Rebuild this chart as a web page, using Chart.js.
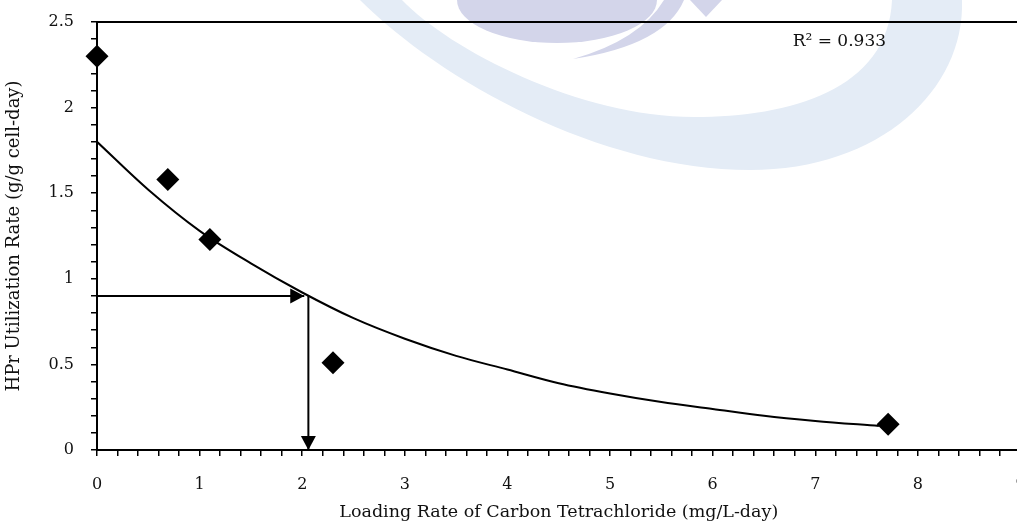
<!DOCTYPE html>
<html>
<head>
<meta charset="utf-8">
<script src="https://cdn.jsdelivr.net/npm/chart.js@4/dist/chart.umd.min.js"></script>
<style>
  html, body { margin: 0; padding: 0; background: #fff; overflow: hidden; }
  #chart { display: block; }
</style>
</head>
<body>
<canvas id="chart" width="1032" height="528"></canvas>
<script>
// measured points
const loadingRate = [0, 0.69, 1.1, 2.3, 7.71];
const utilRate = [2.3, 1.58, 1.23, 0.51, 0.15];

// trend line
const trendX = [0, 0.5, 1, 1.5, 2, 2.5, 3, 3.5, 4, 4.5, 5, 5.5, 6, 6.5, 7, 7.62];
const trendY = [1.8, 1.52, 1.28, 1.09, 0.92, 0.77, 0.65, 0.55, 0.47, 0.39, 0.33, 0.28, 0.24, 0.2, 0.17, 0.14];

// guide arrows
const arrowAcrossX = [0, 2.02];
const arrowAcrossY = [0.9, 0.9];
const arrowDownX = [2.06, 2.06];
const arrowDownY = [0.9, 0];

const xMajorTicks = [0, 1, 2, 3, 4, 5, 6, 7, 8, 9];
const yMajorTicks = ["0", "0.5", "1", "1.5", "2", "2.5"];
const rSquared = "R² = 0.933";

const FONT = "'DejaVu Serif', 'Liberation Serif', serif";

const toPoints = (xs, ys) => xs.map((x, i) => ({ x: x, y: ys[i] }));

const background = {
  id: "background",
  beforeDraw(chart) {
    const { ctx } = chart;
    ctx.save();
    ctx.fillStyle = "#fff";
    ctx.fillRect(0, 0, chart.width, chart.height);

    // faint publisher watermark
    ctx.fillStyle = "#e4ecf6";
    ctx.beginPath();
    ctx.moveTo(360, 0);
    ctx.bezierCurveTo(440, 80, 600, 170, 750, 170);
    ctx.bezierCurveTo(880, 170, 965, 90, 962, 0);
    ctx.lineTo(892, 0);
    ctx.bezierCurveTo(888, 90, 790, 117, 694, 117);
    ctx.bezierCurveTo(580, 117, 450, 50, 402, 0);
    ctx.closePath();
    ctx.fill();

    ctx.fillStyle = "#d3d5ea";
    ctx.beginPath();
    ctx.ellipse(557, 0, 100, 43, 0, 0, Math.PI);
    ctx.fill();
    ctx.beginPath();
    ctx.moveTo(573, 59);
    ctx.quadraticCurveTo(665, 45, 684, 0);
    ctx.lineTo(664, 0);
    ctx.quadraticCurveTo(640, 40, 573, 59);
    ctx.fill();
    ctx.beginPath();
    ctx.moveTo(690, 0);
    ctx.lineTo(722, 0);
    ctx.lineTo(706, 17);
    ctx.closePath();
    ctx.fill();
    ctx.restore();
  },
};

const frameAndLabels = {
  id: "frameAndLabels",
  afterDatasetsDraw(chart) {
    const { ctx, chartArea, scales } = chart;
    ctx.save();
    ctx.strokeStyle = "#000";
    ctx.lineWidth = 2;
    ctx.beginPath();
    ctx.moveTo(chartArea.left, chartArea.top);
    ctx.lineTo(chart.width, chartArea.top);
    ctx.stroke();

    // arrow heads at the end of each guide line
    ctx.fillStyle = "#000";
    [2, 3].forEach((idx) => {
      const pts = chart.getDatasetMeta(idx).data;
      const a = pts[pts.length - 2];
      const b = pts[pts.length - 1];
      const ang = Math.atan2(b.y - a.y, b.x - a.x);
      const len = 14;
      const half = 7.5;
      ctx.save();
      ctx.translate(b.x, b.y);
      ctx.rotate(ang);
      ctx.beginPath();
      ctx.moveTo(0, 0);
      ctx.lineTo(-len, -half);
      ctx.lineTo(-len, half);
      ctx.closePath();
      ctx.fill();
      ctx.restore();
    });

    ctx.fillStyle = "#111";
    ctx.font = "17px " + FONT;
    ctx.textAlign = "left";
    ctx.textBaseline = "middle";
    ctx.fillText(rSquared, scales.x.getPixelForValue(6.78), scales.y.getPixelForValue(2.383));
    ctx.restore();
  },
};

new Chart(document.getElementById("chart"), {
  type: "scatter",
  data: {
    datasets: [
      {
        label: "measured",
        data: toPoints(loadingRate, utilRate),
        pointStyle: "rectRot",
        pointRadius: 11.5,
        pointHoverRadius: 11.5,
        backgroundColor: "#000",
        borderColor: "#000",
        borderWidth: 0,
        clip: false,
        order: 0,
      },
      {
        label: "trend",
        type: "line",
        data: toPoints(trendX, trendY),
        borderColor: "#000",
        borderWidth: 2,
        pointRadius: 0,
        cubicInterpolationMode: "monotone",
        fill: false,
        order: 1,
      },
      {
        label: "across",
        type: "line",
        data: toPoints(arrowAcrossX, arrowAcrossY),
        borderColor: "#000",
        borderWidth: 2,
        pointRadius: 0,
        fill: false,
        order: 2,
      },
      {
        label: "down",
        type: "line",
        data: toPoints(arrowDownX, arrowDownY),
        borderColor: "#000",
        borderWidth: 2,
        pointRadius: 0,
        fill: false,
        order: 3,
      },
    ],
  },
  options: {
    responsive: false,
    animation: false,
    events: [],
    layout: {
      padding: { top: 22, right: 11, left: 0, bottom: 0 },
    },
    scales: {
      x: {
        type: "linear",
        min: 0,
        max: 9,
        afterFit: (scale) => {
          scale.height = 78;
          scale.paddingLeft = 0;
          scale.paddingRight = 0;
        },
        border: { display: true, color: "#000", width: 2 },
        grid: {
          drawOnChartArea: false,
          color: "#000",
          tickLength: 6,
          lineWidth: 1.5,
        },
        ticks: {
          stepSize: 0.2,
          autoSkip: false,
          maxRotation: 0,
          padding: 19,
          color: "#111",
          font: { family: FONT, size: 16 },
          callback: (value) => {
            const hit = xMajorTicks.find((t) => Math.abs(t - value) < 1e-6);
            return hit === undefined ? "" : String(hit);
          },
        },
        title: {
          display: true,
          text: "Loading Rate of Carbon Tetrachloride (mg/L-day)",
          color: "#111",
          font: { family: FONT, size: 17.5 },
          padding: { top: 0, bottom: 5 },
        },
      },
      y: {
        type: "linear",
        min: 0,
        max: 2.5,
        afterFit: (scale) => {
          scale.width = 97;
          scale.paddingTop = 0;
          scale.paddingBottom = 0;
        },
        border: { display: true, color: "#000", width: 2 },
        grid: {
          drawOnChartArea: false,
          color: "#000",
          tickLength: 6,
          lineWidth: 1.5,
        },
        ticks: {
          stepSize: 0.1,
          autoSkip: false,
          padding: 17,
          color: "#111",
          font: { family: FONT, size: 16 },
          callback: (value) => {
            const hit = yMajorTicks.find((t) => Math.abs(Number(t) - value) < 1e-6);
            return hit === undefined ? "" : hit;
          },
        },
        title: {
          display: true,
          text: "HPr Utilization Rate (g/g cell-day)",
          color: "#111",
          font: { family: FONT, size: 18 },
          padding: { top: 4, bottom: 0 },
        },
      },
    },
    plugins: {
      legend: { display: false },
      tooltip: { enabled: false },
    },
  },
  plugins: [background, frameAndLabels],
});
</script>
</body>
</html>
